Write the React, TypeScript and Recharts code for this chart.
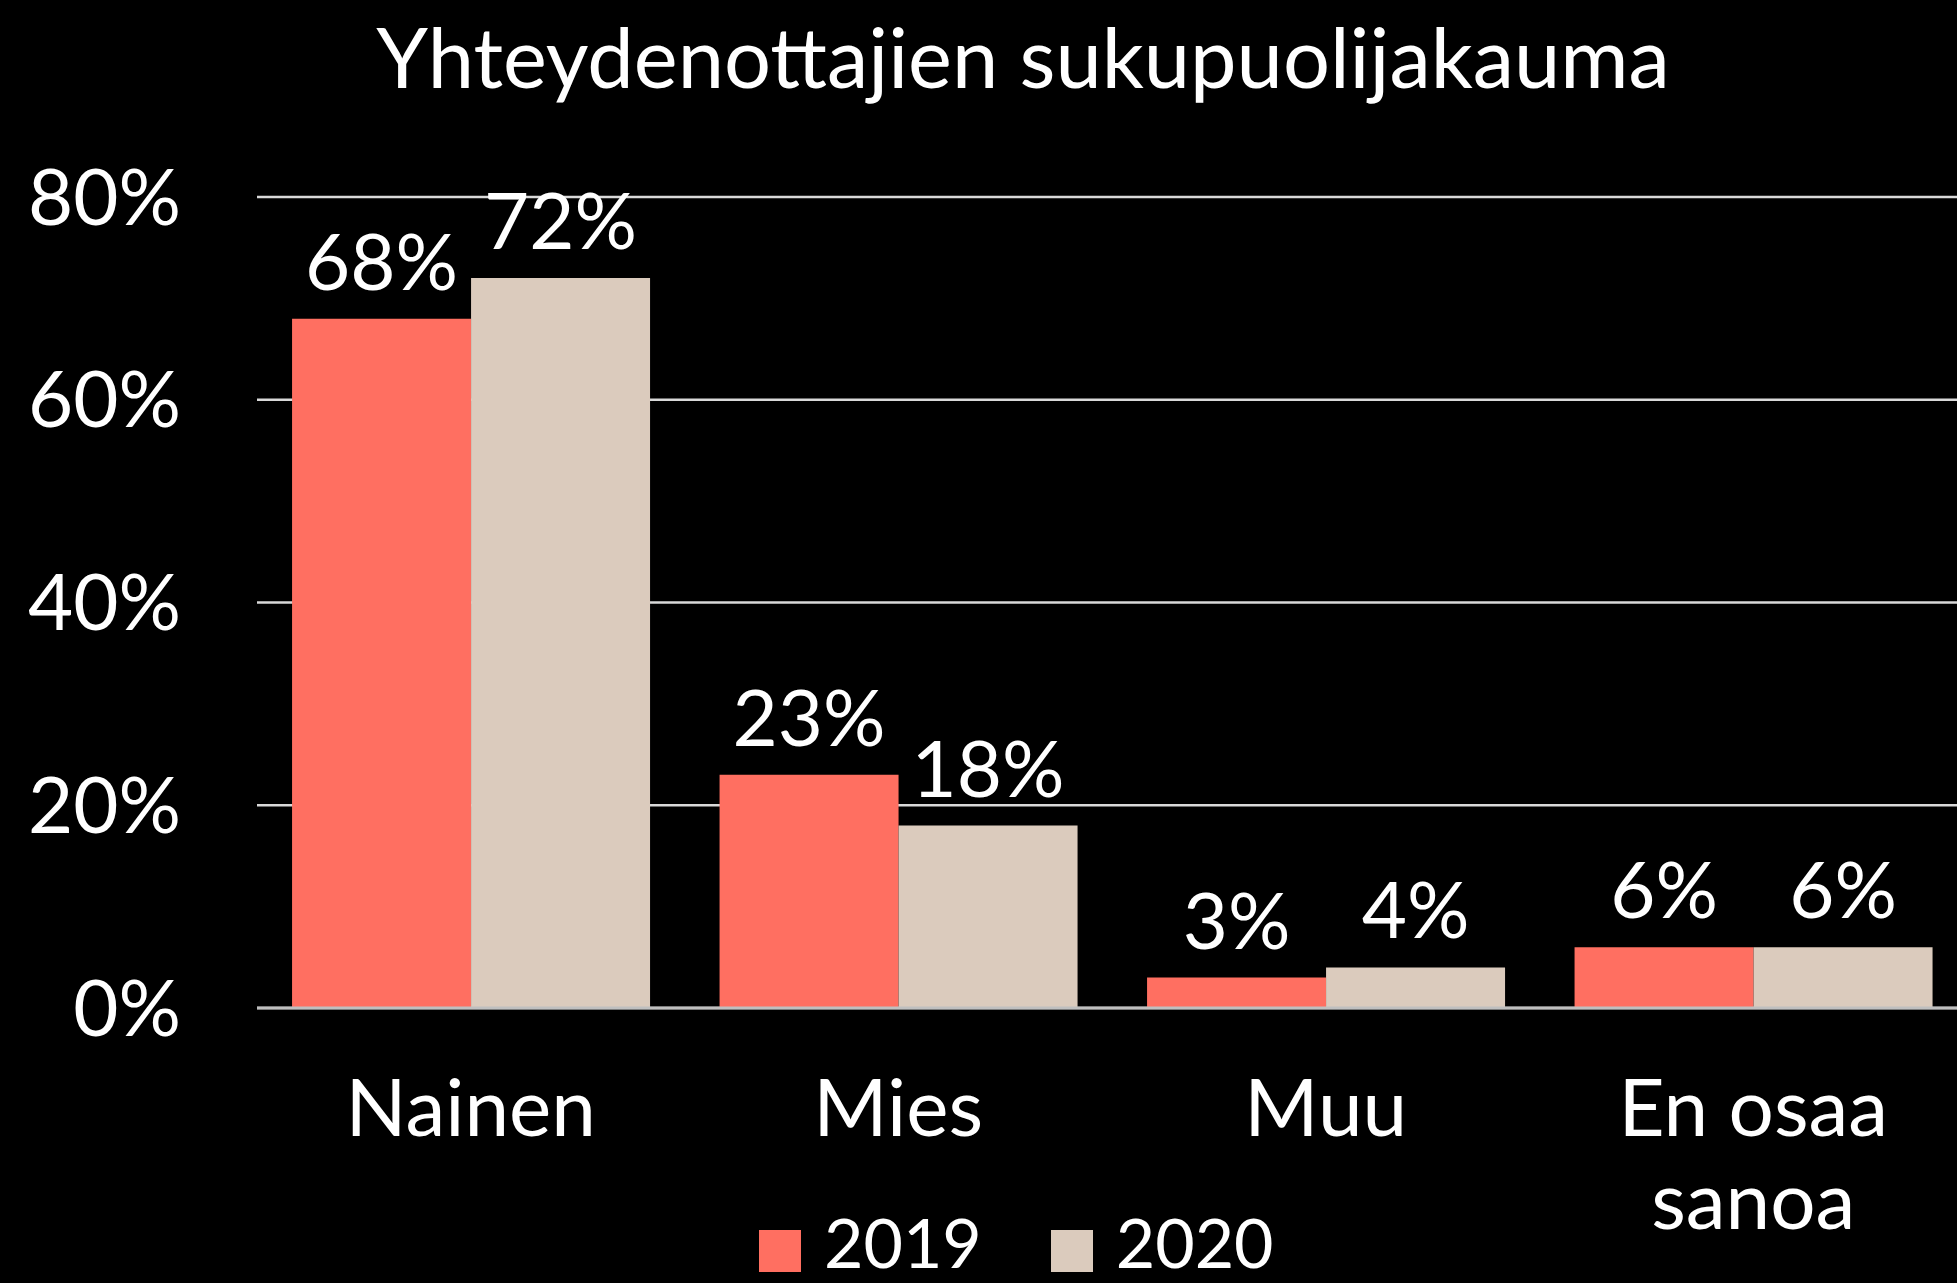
import React from 'react';
import { BarChart, Bar, XAxis, YAxis, CartesianGrid, LabelList, Legend } from 'recharts';

const title = 'Yhteydenottajien sukupuolijakauma';
const categories = ['Nainen', 'Mies', 'Muu', 'En osaa sanoa'];
const categoryLines = [['Nainen'], ['Mies'], ['Muu'], ['En osaa', 'sanoa']];
const values2019 = [68, 23, 3, 6];
const values2020 = [72, 18, 4, 6];
const seriesNames = ['2019', '2020'];
const yTicks = [0, 20, 40, 60, 80];

const COLORS = ['#FF6F61', '#DBCBBD'];
const FONT = 'Lato, "Open Sans", sans-serif';
const W = 1957;
const H = 1283;

const data = categories.map((c, i) => ({
  name: c,
  y2019: values2019[i],
  y2020: values2020[i],
}));

const CategoryTick = (props: any) => {
  const { x, y, payload } = props;
  const idx = categories.indexOf(payload.value);
  const lines = categoryLines[idx] || [payload.value];
  return (
    <g>
      {lines.map((ln: string, i: number) => (
        <text
          key={i}
          x={x}
          y={y + 128 + i * 93}
          textAnchor="middle"
          fill="#ffffff"
          fontFamily={FONT}
          fontSize={80}
        >
          {ln}
        </text>
      ))}
    </g>
  );
};

const LegendContent = () => (
  <div style={{ display: 'flex', alignItems: 'flex-start', fontFamily: FONT }}>
    {seriesNames.map((s, i) => (
      <div key={s} style={{ display: 'flex', alignItems: 'flex-start', marginRight: i === 0 ? 69 : 0 }}>
        <div style={{ width: 42, height: 42, background: COLORS[i], marginRight: 23, marginTop: 18 }} />
        <span style={{ color: '#ffffff', fontSize: 68, lineHeight: '60px' }}>{s}</span>
      </div>
    ))}
  </div>
);

export default function App() {
  return (
    <div style={{ position: 'absolute', left: 0, top: 0, width: W, height: H, background: '#000000', overflow: 'hidden' }}>
      <svg width={W} height={150} style={{ position: 'absolute', left: 0, top: 0 }}>
        <text x={1023} y={88} textAnchor="middle" fill="#ffffff" fontFamily={FONT} fontSize={83}>
          {title}
        </text>
      </svg>
      <div style={{ position: 'absolute', left: 0, top: 0 }}>
        <BarChart
          width={W}
          height={H}
          data={data}
          margin={{ top: 197, right: -10, left: 0, bottom: 0 }}
          barCategoryGap="8.2%"
          barGap={0}
        >
          <CartesianGrid horizontal vertical={false} stroke="#d9d9d9" strokeWidth={2.5} />
          <XAxis
            dataKey="name"
            height={275}
            tick={<CategoryTick />}
            tickLine={false}
            tickSize={0}
            tickMargin={0}
            axisLine={{ stroke: '#bfbfbf', strokeWidth: 3 }}
            interval={0}
          />
          <YAxis
            width={257}
            domain={[0, 80]}
            ticks={yTicks}
            tickFormatter={(v: number) => `${v}%`}
            axisLine={false}
            tickLine={false}
            tickSize={0}
            tickMargin={76}
            tick={{ fill: '#ffffff', fontFamily: FONT, fontSize: 78 }}
          />
          <Legend
            verticalAlign="middle"
            align="center"
            layout="horizontal"
            content={<LegendContent />}
            wrapperStyle={{ top: 1212, left: 759, width: 'auto' }}
          />
          <Bar dataKey="y2019" name={seriesNames[0]} fill={COLORS[0]} isAnimationActive={false}>
            <LabelList
              dataKey="y2019"
              position="top"
              offset={29}
              formatter={(v: number) => `${v}%`}
              fill="#ffffff"
              fontFamily={FONT}
              fontSize={78}
            />
          </Bar>
          <Bar dataKey="y2020" name={seriesNames[1]} fill={COLORS[1]} isAnimationActive={false}>
            <LabelList
              dataKey="y2020"
              position="top"
              offset={29}
              formatter={(v: number) => `${v}%`}
              fill="#ffffff"
              fontFamily={FONT}
              fontSize={78}
            />
          </Bar>
        </BarChart>
      </div>
    </div>
  );
}
